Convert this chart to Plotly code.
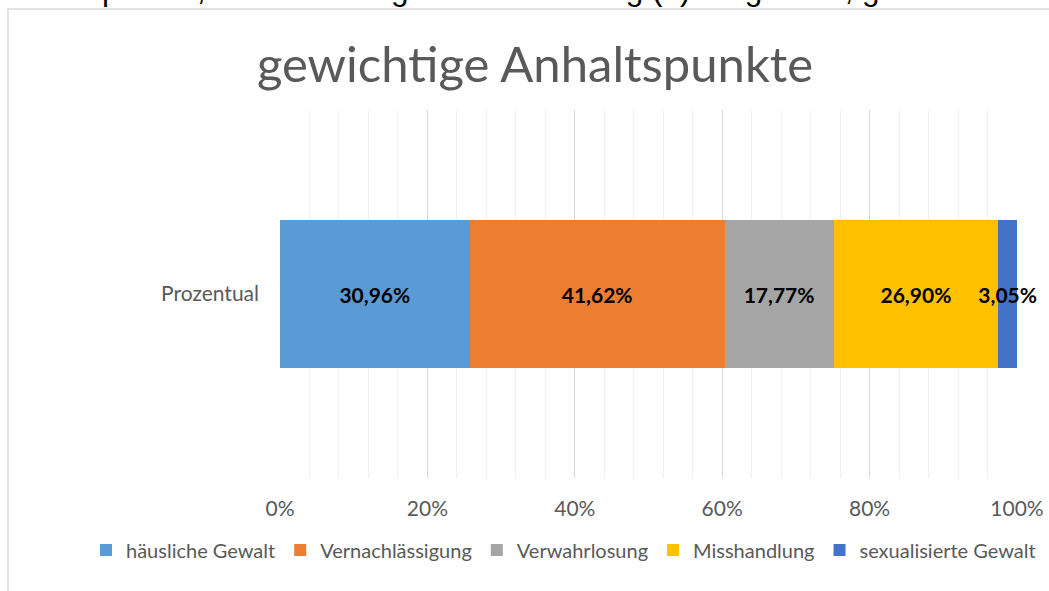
import plotly.graph_objects as go

# Datenlabels aus dem Original (Summe > 100, daher 100%-gestapelt normiert)
kategorien = ["Prozentual"]
serien = ["häusliche Gewalt", "Vernachlässigung", "Verwahrlosung", "Misshandlung", "sexualisierte Gewalt"]
werte = [30.96, 41.62, 17.77, 26.90, 3.05]
farben = ["#5b9bd5", "#ed7d31", "#a5a5a5", "#ffc000", "#4472c4"]
x_ticks = [0, 20, 40, 60, 80, 100]
x_tick_text = ["0%", "20%", "40%", "60%", "80%", "100%"]

FONT = "Lato"
GRAU = "#595959"

fig = go.Figure()
for name, wert, farbe in zip(serien, werte, farben):
    fig.add_trace(go.Bar(
        y=kategorien,
        x=[wert],
        name=name,
        orientation="h",
        marker=dict(color=farbe, line=dict(width=0)),
        text=[f"{wert:.2f}%".replace(".", ",")],
        textposition="inside",
        insidetextanchor="middle",
        textangle=0,
        constraintext="none",
        cliponaxis=False,
        textfont=dict(family=FONT, size=21, color="black", weight="bold"),
        hoverinfo="skip",
    ))

# Plotbereich in Pixeln: links 280, rechts 1017, oben 110, unten 478
L, R, T, B = 280, 1017, 110, 478
W, H = R - L, B - T

def px_x(p):
    return (p - L) / W

def px_y(p):
    return (B - p) / H

fig.update_layout(
    barmode="stack",
    barnorm="percent",
    bargap=0.6,
    width=1049,
    height=591,
    margin=dict(l=L, r=1049 - R, t=T, b=591 - B),
    paper_bgcolor="white",
    plot_bgcolor="white",
    font=dict(family=FONT, color=GRAU, size=22),
    title=dict(
        text="gewichtige Anhaltspunkte",
        x=535 / 1049, xanchor="center",
        y=1 - 65 / 591, yanchor="middle",
        font=dict(family=FONT, size=49, color=GRAU),
    ),
    showlegend=True,
    legend=dict(
        orientation="h",
        xref="paper", x=px_x(86), xanchor="left",
        yref="paper", y=px_y(550), yanchor="middle",
        font=dict(family=FONT, size=20, color=GRAU),
        itemwidth=30,
        tracegroupgap=0,
        traceorder="normal",
        bgcolor="rgba(0,0,0,0)",
    ),
    xaxis=dict(
        range=[0, 100],
        tickvals=x_ticks,
        ticktext=x_tick_text,
        showgrid=True,
        gridcolor="#d9d9d9",
        gridwidth=1,
        minor=dict(dtick=4, showgrid=True, gridcolor="#f0f0f0", gridwidth=1),
        zeroline=False,
        showline=False,
        ticks="",
        ticklabelstandoff=16,
        automargin=False,
        tickfont=dict(family=FONT, size=21, color=GRAU),
        fixedrange=True,
    ),
    yaxis=dict(
        showgrid=False,
        zeroline=False,
        showline=False,
        ticks="",
        ticklabelstandoff=20,
        automargin=False,
        tickfont=dict(family=FONT, size=21, color=GRAU),
        fixedrange=True,
    ),
    shapes=[
        dict(
            type="rect", xref="paper", yref="paper",
            x0=px_x(8), x1=px_x(1070), y0=px_y(620), y1=px_y(9),
            line=dict(color="#d9d9d9", width=1.5),
            fillcolor="rgba(0,0,0,0)",
            layer="below",
        )
    ],
    annotations=[
        dict(
            text="Anhaltspunkte, wie in der folgenden Abbildung (6) dargestellt, gehören w",
            xref="paper", yref="paper",
            x=px_x(-5), y=px_y(-10.5),
            xanchor="left", yanchor="middle",
            showarrow=False,
            font=dict(family="Liberation Sans", size=31.5, color="black"),
        )
    ],
)

fig.write_html(
    "out.html",
    config={"displayModeBar": False},
    post_script="document.body.style.margin='0';",
)
